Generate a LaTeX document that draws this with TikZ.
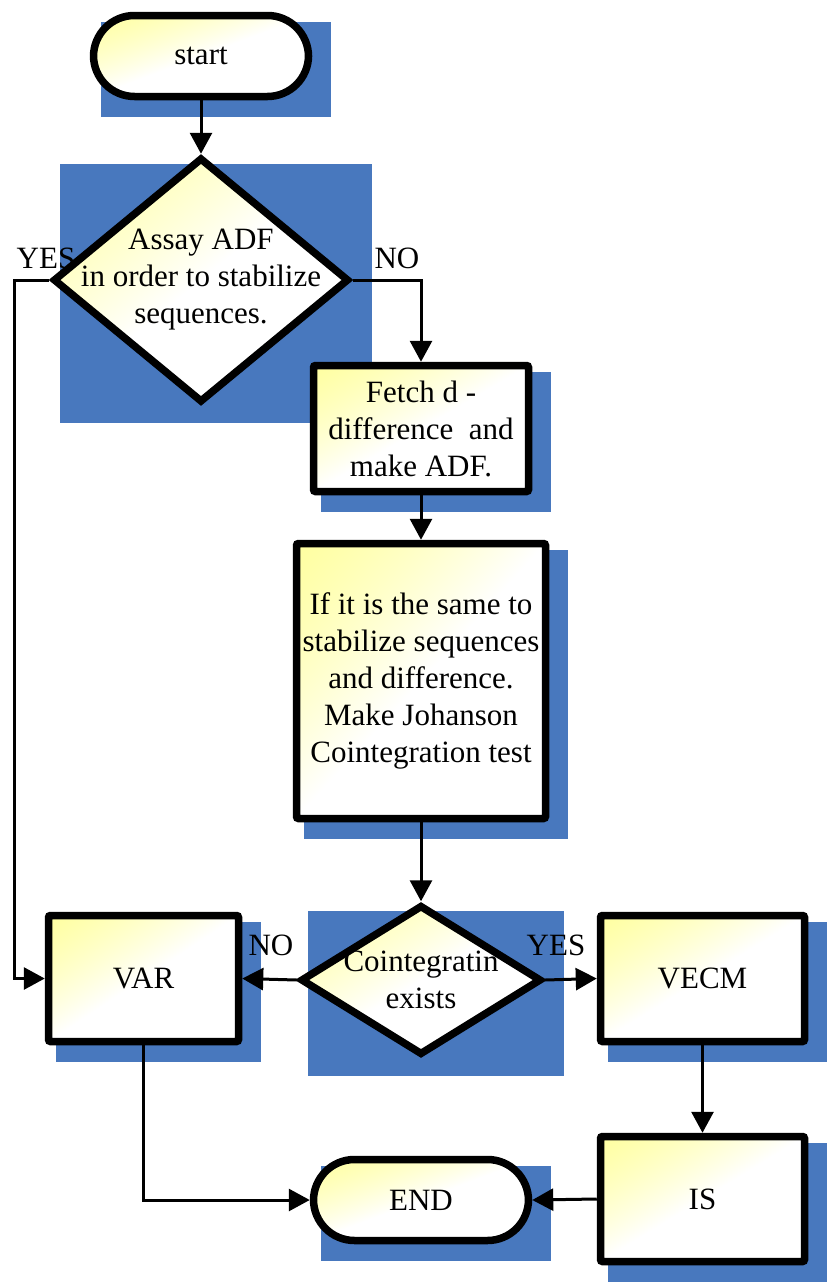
\documentclass[tikz,border=0pt]{standalone}
\usepackage{fontspec}
\setmainfont{Liberation Serif}
\usetikzlibrary{shapes.geometric,arrows.meta,calc,backgrounds}
\definecolor{shadowblue}{RGB}{72,120,190}

% pale yellow in the upper left corner, white from the middle on
\pgfdeclarefunctionalshading{cornerglow}{\pgfpoint{-50bp}{-50bp}}{\pgfpoint{50bp}{50bp}}{}{%
  sub 100 add 100 div dup 1 gt {pop 1} if dup mul 0.5 mul 0.5 add 1 1 3 -1 roll}

\newcommand{\dropshadow}[1]{%
  \fill[shadowblue] ($(#1.west |- #1.north)+(11,10)$) rectangle ($(#1.east |- #1.south)+(19,17)$);}

\begin{document}
\begin{tikzpicture}[x=1pt, y=-1pt,
    font=\fontsize{31}{37}\selectfont,
    box/.style={draw, line width=7.5pt, shading=cornerglow, inner sep=0pt, align=center},
    terminal/.style={box, rectangle, rounded corners=41pt, minimum width=215pt, minimum height=81pt},
    process/.style={box, rectangle, rounded corners=2pt},
    decision/.style={box, diamond},
    flow/.style={line width=3pt, -{Triangle[length=21pt,width=22pt]}},
    tag/.style={inner sep=0pt, align=center}]
    \useasboundingbox (0,0) rectangle (828,1282);

    % shapes
    \node[terminal] (start) at (201,56) {start};
    \node[decision, minimum width=296pt, minimum height=245pt] (assay) at (201,280) {};
    \node[tag] (assaytext) at (assay) {Assay ADF\\in order to stabilize\\sequences.};
    \node[process, minimum width=215pt, minimum height=126pt] (fetch) at (421,428.5) {Fetch d -\\difference\ \ and\\make ADF.};
    \node[process, minimum width=249pt, minimum height=275pt] (johanson) at (421,681) {If it is the same to\\stabilize sequences\\and difference.\\Make Johanson\\Cointegration test};
    \node[decision, minimum width=241pt, minimum height=150pt] (coint) at (421,980) {};
    \node[tag] (cointtext) at (coint) {Cointegratin\\exists};
    \node[process, minimum width=190pt, minimum height=126pt] (var) at (143.5,978.5) {VAR};
    \node[process, minimum width=204pt, minimum height=126pt] (vecm) at (702.5,978.5) {VECM};
    \node[process, minimum width=204pt, minimum height=125pt] (is) at (702.5,1199) {IS};
    \node[terminal] (finish) at (421,1200) {END};

    % blue shadows
    \begin{scope}[on background layer]
      \dropshadow{start}
      \dropshadow{assay}
      \dropshadow{fetch}
      \dropshadow{johanson}
      \dropshadow{coint}
      \dropshadow{var}
      \dropshadow{vecm}
      \dropshadow{is}
      \dropshadow{finish}
    \end{scope}

    % branch labels
    \node[tag] (yesleft) at (46,258) {YES};
    \node[tag] (noright) at (397,258) {NO};
    \node[tag] (nobottom) at (271,945) {NO};
    \node[tag] (yesbottom) at (556,945) {YES};

    % connectors
    \coordinate (yesbend) at (14,280);
    \draw[flow] (start.south) -- (assay.north);
    \draw[flow] (assay.west) -- (yesbend) |- (var.west);
    \draw[flow] (assay.east) -| (fetch.north);
    \draw[flow] (fetch.south) -- (johanson.north);
    \draw[flow] (johanson.south) -- (coint.north);
    \draw[flow] (coint.west) -- (var.east);
    \draw[flow] (coint.east) -- (vecm.west);
    \draw[flow] (vecm.south) -- (is.north);
    \draw[flow] (is.west) -- (finish.east);
    \draw[flow] (var.south) |- (finish.west);
\end{tikzpicture}
\end{document}
